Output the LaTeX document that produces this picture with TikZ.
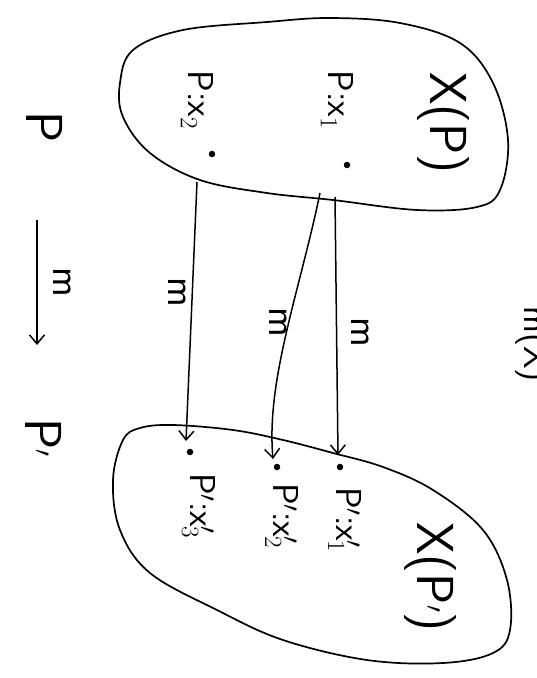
\documentclass[tikz,border=0pt]{standalone}
\usetikzlibrary{arrows.meta}
\begin{document}
\begin{tikzpicture}[x=1pt,y=-1pt,
  blob/.style={draw, line width=1.7pt},
  lbl/.style={rotate=-90, inner sep=0pt, font=\fontsize{36}{38}\selectfont\sffamily},
  maplbl/.style={rotate=-90, inner sep=0pt, font=\fontsize{40}{42}\selectfont\sffamily},
  big/.style={rotate=-90, inner sep=0pt, font=\fontsize{52}{54}\selectfont\sffamily},
  dotpt/.style={circle, fill, inner sep=0pt, minimum size=6.5pt},
  maparrow/.style={-{Straight Barb[length=9pt,width=15pt,line width=1.5pt]}, line width=1.5pt}]
\useasboundingbox (0,0) rectangle (537,678);
\clip (0,0) rectangle (537,678);
\fill[white] (0,0) rectangle (537,678);

% upper blob X(P)
\draw[blob] plot[smooth cycle, tension=0.6] coordinates {(120,83) (133,50) (183,30) (267,22) (330,18) (400,23) (460,43) (493,83) (508,140) (500,190) (477,207) (417,210) (333,200) (267,193) (200,180) (150,153) (123,117)};
% lower blob X(P')
\draw[blob] plot[smooth cycle, tension=0.6] coordinates {(140,428) (173,425) (233,430) (283,440) (333,453) (383,467) (433,490) (483,530) (507,580) (510,630) (493,653) (443,663) (367,660) (283,640) (217,610) (150,573) (120,530) (113,480) (123,440)};

\node[big] (XP) at (443,123) {X(P)};
\node[lbl] (l1) at (337,100) {P:x$_1$};
\node[lbl] (l2) at (197,100) {P:x$_2$};
\node[dotpt] (a1) at (347,165) {};
\node[dotpt] (a2) at (212,154) {};

\node[big] (XPp) at (430,577) {X(P$'$)};
\node[dotpt] (b1) at (340,467) {};
\node[dotpt] (b2) at (277,467) {};
\node[dotpt] (b3) at (190,452) {};
\node[lbl] (k1) at (345,520) {P$'$:x$_1'$};
\node[lbl] (k2) at (282,516) {P$'$:x$_2'$};
\node[lbl] (k3) at (199,506) {P$'$:x$_3'$};

% arrows between the sets
\coordinate (s1) at (335,197);
\coordinate (s1b) at (320,193);
\coordinate (s2) at (197,182);
\coordinate (e1) at (338,455);
\coordinate (e2) at (273,459);
\coordinate (e3) at (186,441);
\draw[maparrow] (s1) -- (e1);
\draw[maparrow] (s1b) .. controls (300,290) and (266,380) .. (e2);
\draw[maparrow] (s2) -- (e3);
\node[maplbl] (m1) at (360,332) {m};
\node[maplbl] (m2) at (278,322) {m};
\node[maplbl] (m3) at (177,292) {m};

% P --m--> P'
\node[big] (P) at (45,127) {P};
\node[big] (Pp) at (44,438) {P$'$};
\coordinate (t1) at (37,220);
\coordinate (t2) at (37,345);
\draw[maparrow] (t1) -- (t2);
\node[maplbl] (m0) at (62,282) {m};

% text cut off at the right edge, as in the scan
\node[lbl, anchor=base west] (mX) at (524,306) {m(X)};
\end{tikzpicture}
\end{document}
